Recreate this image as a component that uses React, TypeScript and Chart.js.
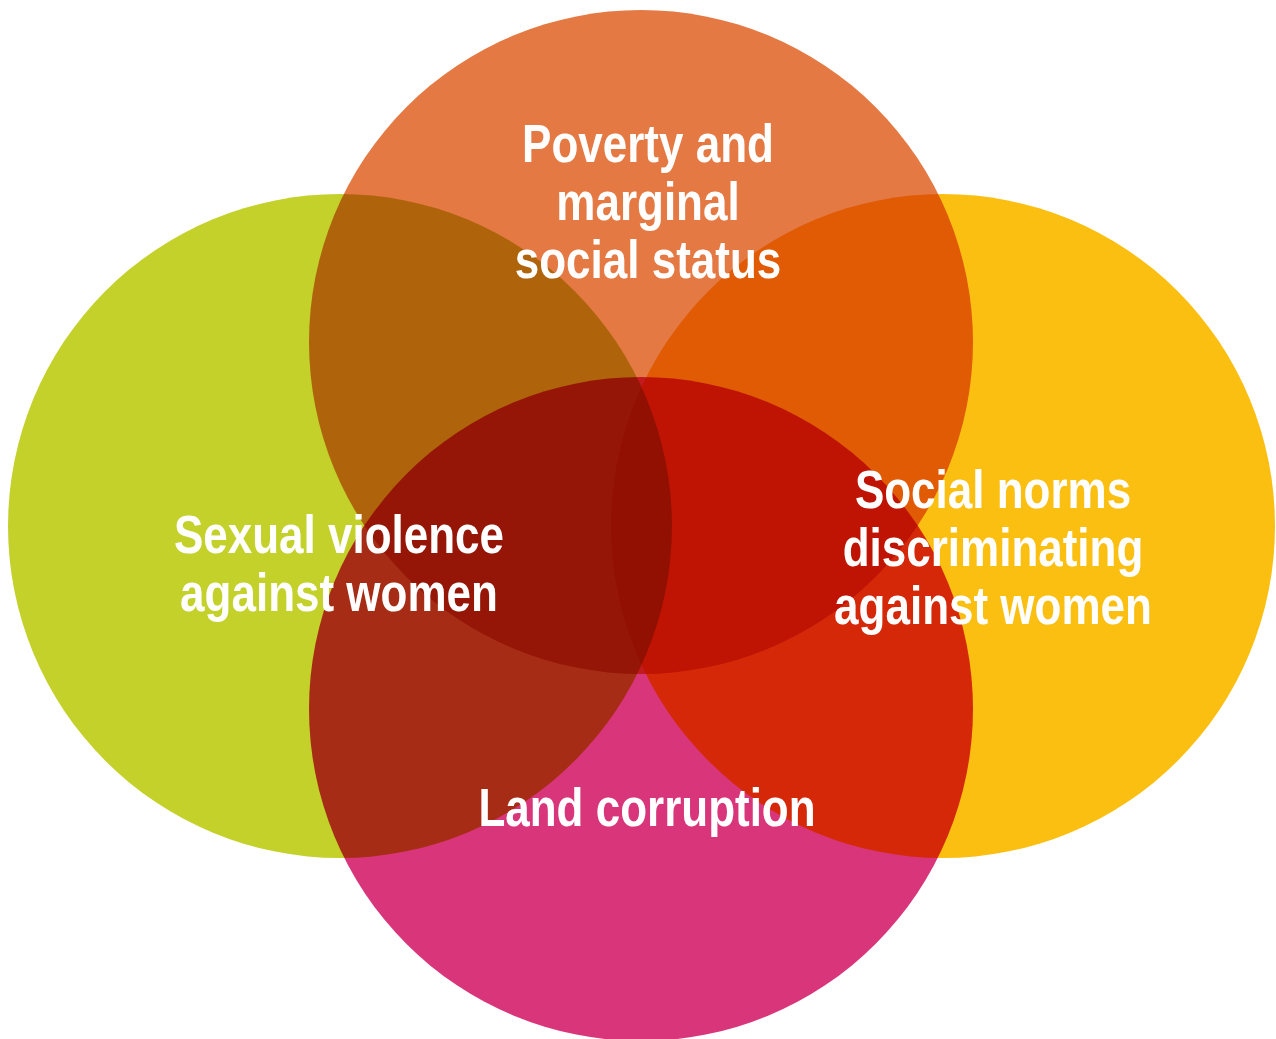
import React, { useEffect, useRef, useState } from "react";
import { Chart, registerables } from "chart.js";

Chart.register(...registerables);

// Circle data (diagram units, 1 unit = radius/3.32)
const circleNames = ["Sexual violence", "Poverty", "Social norms", "Land corruption"];
const circleX = [-3.01, 0.0, 3.02, 0.0];
const circleY = [0.0, 1.84, 0.0, -1.83];
const circleR = [3.32, 3.32, 3.32, 3.32];
const circleColors = ["#C3D12A", "#E57943", "#FBBF12", "#D9357A"];

// Labels
const labelLines = [
  ["Poverty and", "marginal", "social status"],
  ["Sexual violence", "against women"],
  ["Social norms", "discriminating", "against women"],
  ["Land corruption"],
];
const labelX = [0.07, -3.02, 3.52, 0.06];
const labelY = [3.79, -0.12, 0.33, -2.85];
const lineStep = 0.58;
const condense = 0.83;

const X_MIN = -6.41;
const X_MAX = 6.35;
const Y_MIN = -5.13;
const Y_MAX = 5.26;

const multiplyPlugin = {
  id: "multiplyBlend",
  beforeDatasetsDraw(chart: any) {
    chart.ctx.save();
    chart.ctx.globalCompositeOperation = "multiply";
  },
  afterDatasetsDraw(chart: any) {
    chart.ctx.restore();
  },
};

const labelPlugin = {
  id: "vennLabels",
  afterDraw(chart: any) {
    const ctx = chart.ctx;
    const xs = chart.scales.x;
    const ys = chart.scales.y;
    ctx.save();
    ctx.fillStyle = "#FFFFFF";
    ctx.textAlign = "center";
    ctx.textBaseline = "middle";
    ctx.font = 'bold 53px "Liberation Sans", Arial, sans-serif';
    labelLines.forEach((lines, i) => {
      lines.forEach((line, j) => {
        const px = xs.getPixelForValue(labelX[i]);
        const py = ys.getPixelForValue(labelY[i] - j * lineStep);
        ctx.save();
        ctx.translate(px, py);
        ctx.scale(condense, 1);
        ctx.fillText(line, 0, 0);
        ctx.restore();
      });
    });
    ctx.restore();
  },
};

export default function App() {
  const canvasRef = useRef<HTMLCanvasElement | null>(null);
  const [err, setErr] = useState("");

  useEffect(() => {
    if (!canvasRef.current) return;
    let chart: any = null;
    try {
      chart = new Chart(canvasRef.current, {
        type: "scatter",
        data: {
          datasets: [
            {
              label: "Venn",
              data: circleX.map((x, i) => ({ x, y: circleY[i], name: circleNames[i] })),
              backgroundColor: circleColors,
              pointBackgroundColor: circleColors,
              borderWidth: 0,
              pointBorderWidth: 0,
              pointRadius: (c: any) => {
                const s = c.chart.scales.x;
                const v = circleR[c.dataIndex] || 0;
                return Math.abs(s.getPixelForValue(v) - s.getPixelForValue(0));
              },
              pointHoverRadius: 0,
              clip: false,
            } as any,
          ],
        },
        options: {
          responsive: false,
          devicePixelRatio: 1,
          animation: false,
          layout: { padding: 0 },
          plugins: {
            legend: { display: false },
            tooltip: { enabled: false },
          },
          scales: {
            x: { type: "linear", display: false, min: X_MIN, max: X_MAX },
            y: { type: "linear", display: false, min: Y_MIN, max: Y_MAX },
          },
        },
        plugins: [multiplyPlugin, labelPlugin],
      });
    } catch (e: any) {
      setErr(String(e && e.stack ? e.stack : e));
    }
    return () => {
      if (chart) chart.destroy();
    };
  }, []);

  return (
    <div style={{ position: "fixed", left: 0, top: 0, width: 1276, height: 1039 }}>
      <canvas ref={canvasRef} width={1276} height={1039} style={{ width: 1276, height: 1039 }} />
      {err ? <pre style={{ position: "absolute", left: 10, top: 10, color: "red" }}>{err}</pre> : null}
    </div>
  );
}
